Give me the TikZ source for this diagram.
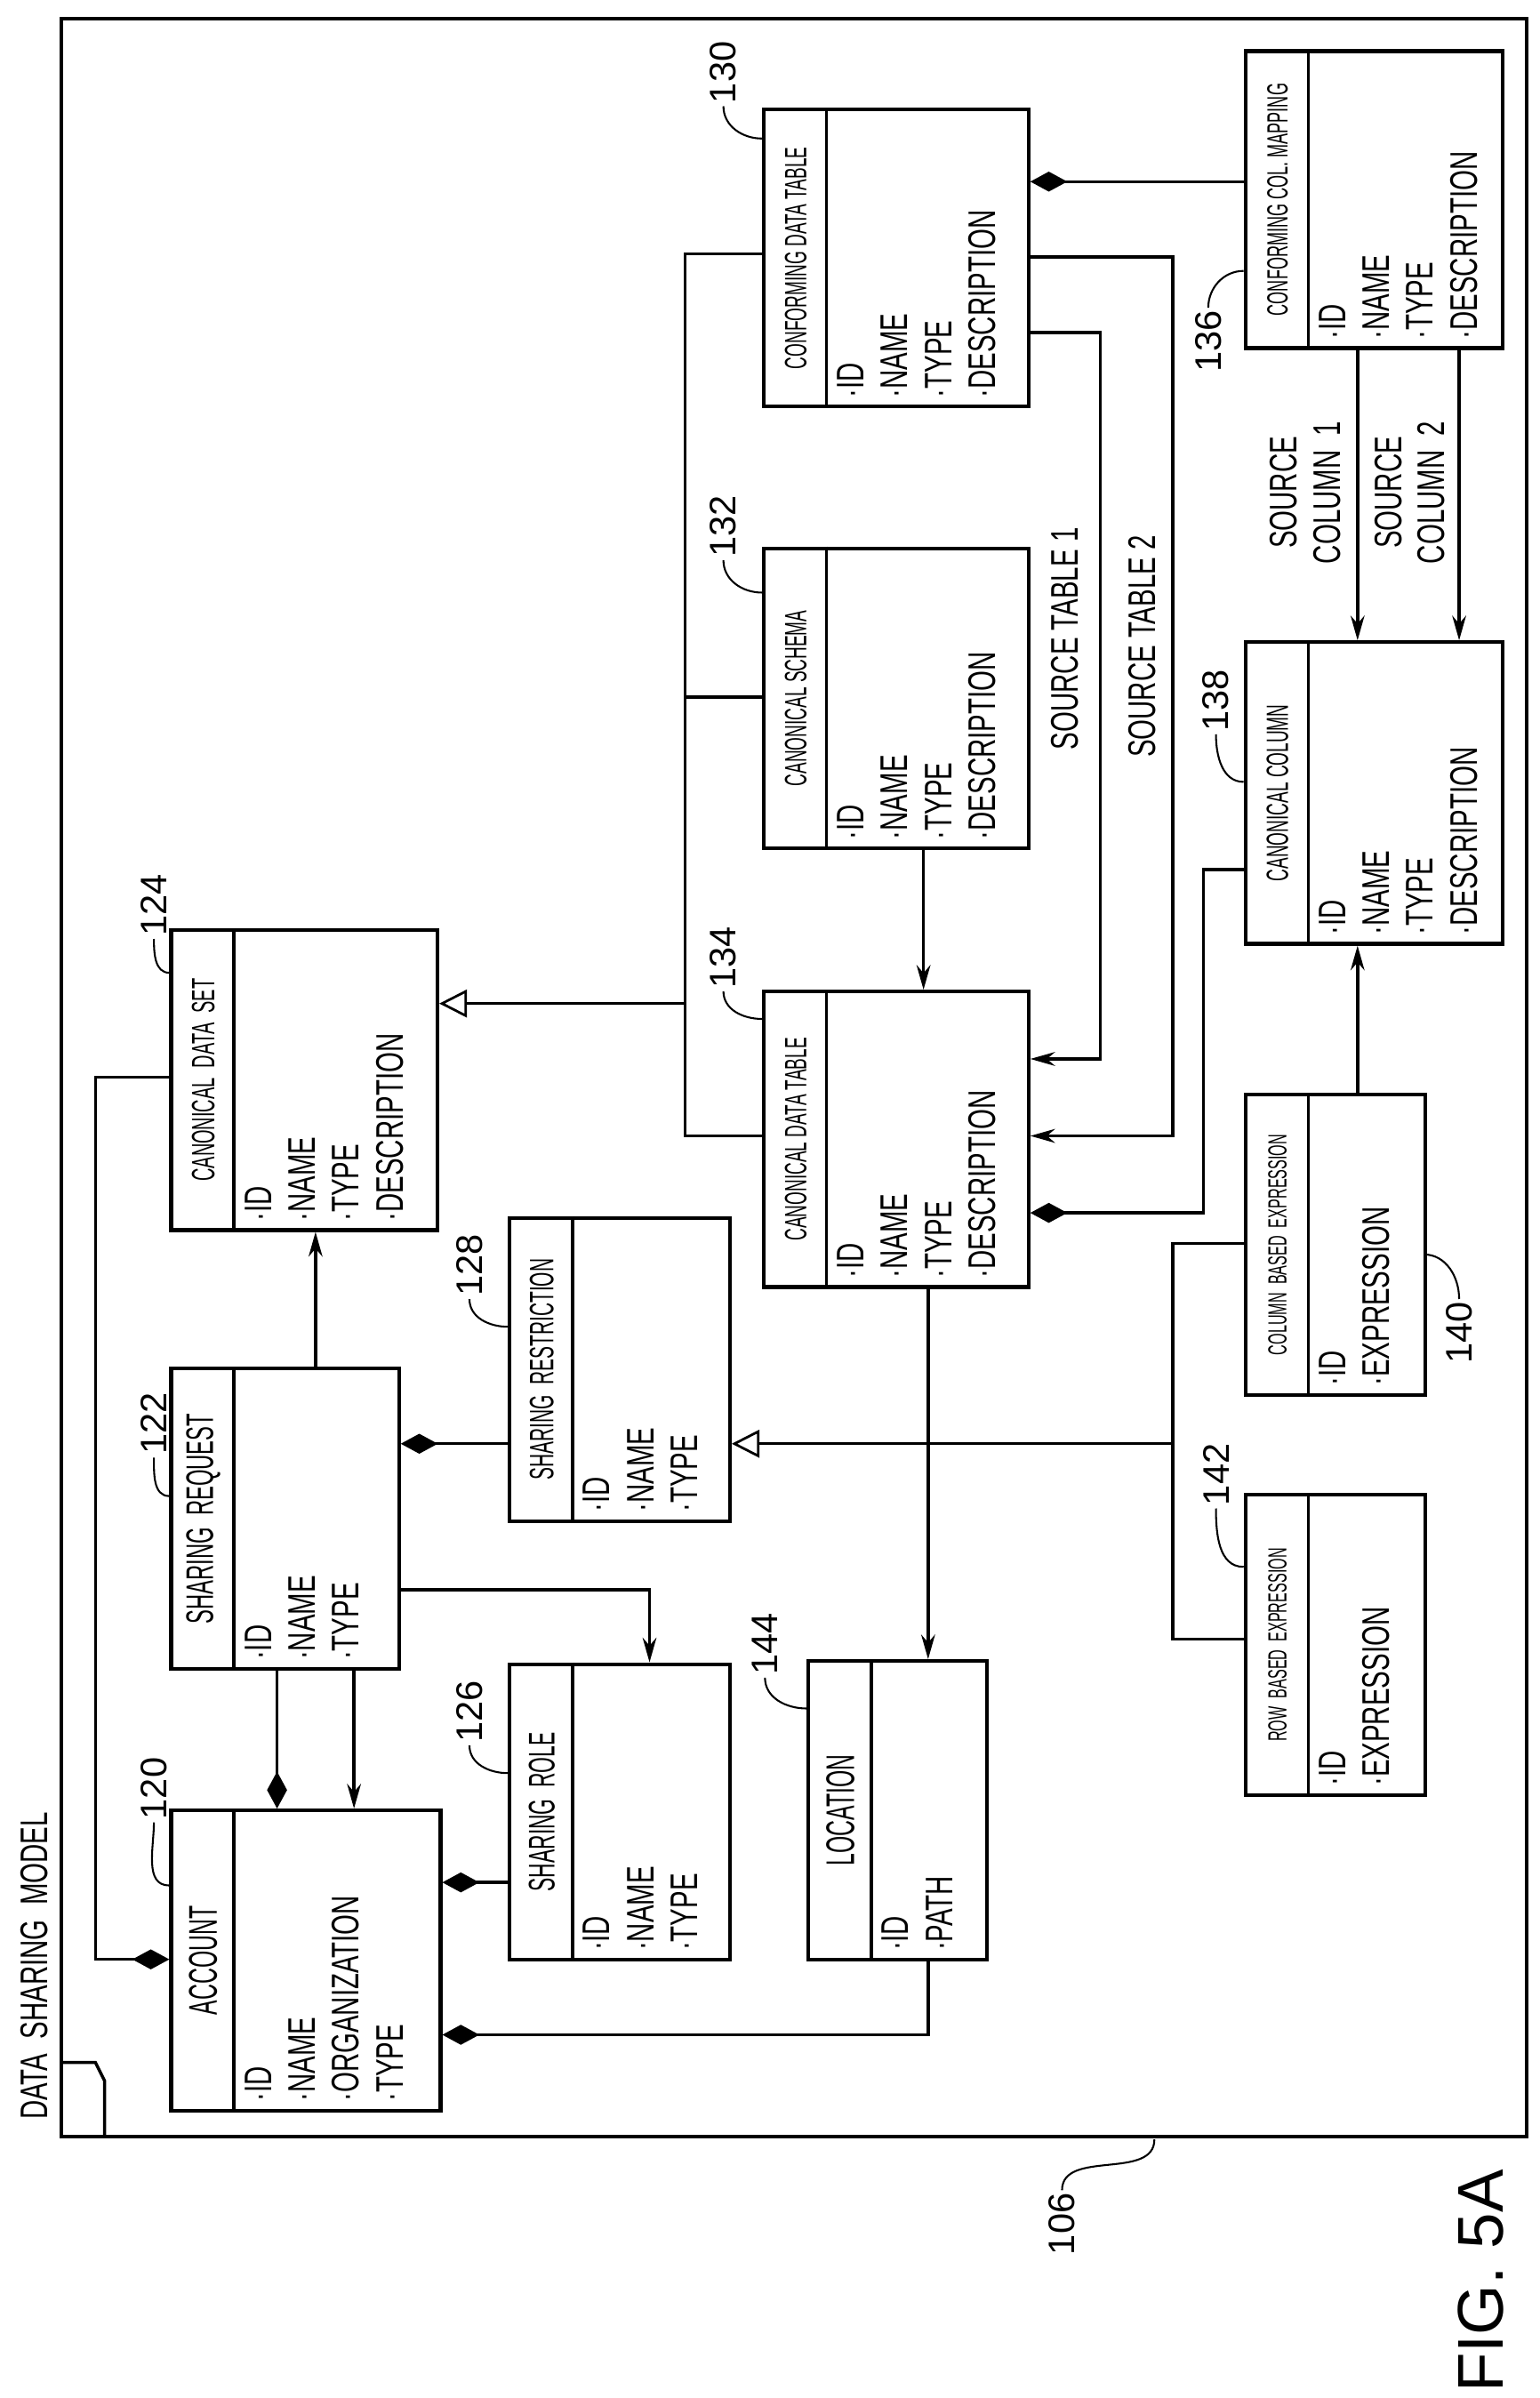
\documentclass[tikz,border=0pt]{standalone}
\usepackage{fontspec}
\setmainfont{Liberation Sans}
\newfontfamily\pfont[FakeStretch=0.68]{Liberation Sans}
\newfontfamily\tfont[FakeStretch=0.55]{Liberation Sans}
\usetikzlibrary{arrows.meta,positioning}
\newcommand\bul[1]{\textperiodcentered#1}

\begin{document}
\begin{tikzpicture}[x=1pt,y=-1pt,line width=2pt,
    entity/.style={draw,line width=2.4pt,rectangle,inner sep=0pt,anchor=north west},
    title/.style={rotate=90,inner sep=0pt},
    attrs/.style={rotate=90,anchor=north west,align=left,inner sep=0pt,
                  font=\pfont\fontsize{25}{28.5}\selectfont},
    refnum/.style={rotate=90,inner sep=1pt,font=\fontsize{24}{24}\selectfont},
    leader/.style={line width=1.2pt},
    arr/.style={-{Stealth[length=16pt,width=9pt]}},
    dmd/.style={-{Diamond[length=24pt,width=13pt]}},
    gen/.style={-{Triangle[open,length=18pt,width=18pt,line width=1.6pt]}},
    flow/.style={font=\pfont\fontsize{25}{28}\selectfont,rotate=90,align=center}]

  \useasboundingbox (0,0) rectangle (1000,1558);

  % outer frame with tab
  \draw[line width=2.4pt] (40,12) rectangle (992,1388);
  \draw[line width=2pt] (40,1340) -- (62,1340) -- (68,1352) -- (68,1388);
  \node[rotate=90,anchor=south west,inner sep=0pt,font=\pfont\fontsize{25}{25}\selectfont]
     (mdl) at (32,1378) {DATA\ \ SHARING\ \ MODEL};

  % class boxes
  \foreach \nm/\x/\y/\w/\h/\fs/\ttl/\attr in {%
     acc/110/1175/175/195/26/ACCOUNT/{\bul{ID}\\\bul{NAME}\\\bul{ORGANIZATION}\\\bul{TYPE}},%
     req/110/888/148/195/25/SHARING\ \ REQUEST/{\bul{ID}\\\bul{NAME}\\\bul{TYPE}},%
     cds/110/603/173/195/21/CANONICAL\ \ DATA\ \ SET/{\bul{ID}\\\bul{NAME}\\\bul{TYPE}\\\bul{DESCRIPTION}},%
     role/330/1080/143/192/24/SHARING\ \ ROLE/{\bul{ID}\\\bul{NAME}\\\bul{TYPE}},%
     restr/330/790/143/197/22/SHARING\ \ RESTRICTION/{\bul{ID}\\\bul{NAME}\\\bul{TYPE}},%
     loc/524/1078/116/194/26/LOCATION/{\bul{ID}\\\bul{PATH}},%
     cdt/495/643/172/192/20/CANONICAL DATA TABLE/{\bul{ID}\\\bul{NAME}\\\bul{TYPE}\\\bul{DESCRIPTION}},%
     schema/495/355/172/195/20/CANONICAL SCHEMA/{\bul{ID}\\\bul{NAME}\\\bul{TYPE}\\\bul{DESCRIPTION}},%
     conf/495/70/172/193/20/CONFORMING DATA TABLE/{\bul{ID}\\\bul{NAME}\\\bul{TYPE}\\\bul{DESCRIPTION}},%
     map/808/32/167/193/19/CONFORMING COL. MAPPING/{\bul{ID}\\\bul{NAME}\\\bul{TYPE}\\\bul{DESCRIPTION}},%
     col/808/416/167/196/20/CANONICAL COLUMN/{\bul{ID}\\\bul{NAME}\\\bul{TYPE}\\\bul{DESCRIPTION}},%
     cexp/808/710/117/195/17/COLUMN\ \ BASED\ \ EXPRESSION/{\bul{ID}\\\bul{EXPRESSION}},%
     rexp/808/970/117/195/17/ROW\ \ BASED\ \ EXPRESSION/{\bul{ID}\\\bul{EXPRESSION}}%
     } {
     \node[entity,minimum width=\w pt,minimum height=\h pt] (\nm) at (\x,\y) {};
     \draw[line width=2pt] ([xshift=42pt]\nm.north west) -- ([xshift=42pt]\nm.south west);
     \node[title,font=\tfont\fontsize{\fs}{\fs}\selectfont] (\nm-t) at ([xshift=22pt]\nm.west) {\ttl};
     \node[attrs] (\nm-a) at ([xshift=48pt,yshift=6pt]\nm.south west) {\attr};
  }

  % reference numerals
  \foreach \n/\lx/\ly/\tx/\ty in {120/100/1162/110/1225, 122/100/925/110/972,
     124/100/588/110/632, 126/305/1112/330/1152, 128/305/822/330/862,
     144/497/1068/524/1110, 134/470/622/495/662, 132/470/342/495/385,
     130/470/47/495/90, 138/790/455/808/508, 142/790/958/808/1018} {
     \node[refnum] (r\n) at (\lx,\ly) {\n};
     \draw[leader] (r\n.west) to[out=-90,in=180] (\tx,\ty);
  }
  \node[refnum] (r136) at (785,222) {136};
  \draw[leader] (r136.east) to[out=90,in=180] (808,176);
  \node[refnum] (r140) at (948,866) {140};
  \draw[leader] (r140.east) to[out=90,in=0] (925,815);
  \node[refnum] (r106) at (690,1445) {106};
  \draw[leader] (r106.east) to[out=90,in=-90] (750,1390);
  \node[rotate=90,inner sep=0pt,font=\fontsize{42}{42}\selectfont] (fig) at (962,1482) {FIG. 5A};

  % account side
  \draw[arr] (205,0 |- req.north) -- (205,0 |- cds.south);
  \draw[dmd] (180,0 |- req.south) -- (180,0 |- acc.north);
  \draw[arr] (230,0 |- req.south) -- (230,0 |- acc.north);
  \draw[arr] (req.east |- 0,1033) -| (422,0 |- role.north);
  \draw[dmd] (restr.west |- 0,938) -- (req.east |- 0,938);
  \draw[dmd] (role.west |- 0,1223) -- (acc.east |- 0,1223);
  \draw[dmd] (603,0 |- loc.south) |- (acc.east |- 0,1322);
  \draw[dmd] (cds.west |- 0,700) -- (62,700) -- (62,1273) -- (acc.west |- 0,1273);

  % table side
  \draw (conf.west |- 0,165) -- (445,165) -- (445,738) -- (cdt.west |- 0,738);
  \draw (schema.west |- 0,453) -- (445,453);
  \draw[gen] (445,652) -- (cds.east |- 0,652);
  \draw[arr] (600,0 |- schema.south) -- (600,0 |- cdt.north);
  \draw[arr] (conf.east |- 0,216) -- (715,216) -- (715,688) -- (cdt.east |- 0,688);
  \draw[arr] (conf.east |- 0,167) -- (762,167) -- (762,738) -- (cdt.east |- 0,738);
  \node[flow] (st1) at (692,415) {SOURCE TABLE 1};
  \node[flow] (st2) at (742,420) {SOURCE TABLE 2};
  \draw[arr] (603,0 |- cdt.south) -- (603,0 |- loc.north);
  \draw[dmd] (col.west |- 0,565) -- (782,565) -- (782,788) -- (cdt.east |- 0,788);
  \draw[dmd] (map.west |- 0,118) -- (conf.east |- 0,118);
  \draw[arr] (882,0 |- map.south) -- (882,0 |- col.north);
  \draw[arr] (948,0 |- map.south) -- (948,0 |- col.north);
  \node[flow] (sc1) at (848,320) {SOURCE\\COLUMN\ \ 1};
  \node[flow] (sc2) at (916,320) {SOURCE\\COLUMN\ \ 2};
  \draw[arr] (882,0 |- cexp.north) -- (882,0 |- col.south);
  \draw (cexp.west |- 0,808) -- (762,808) -- (762,1065) -- (rexp.west |- 0,1065);
  \draw[gen] (762,938) -- (restr.east |- 0,938);
\end{tikzpicture}
\end{document}
